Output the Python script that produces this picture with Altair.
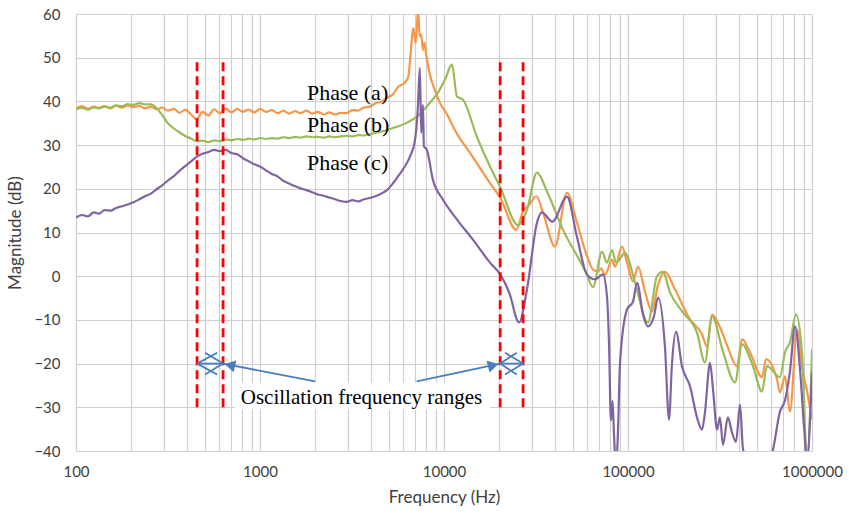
import altair as alt
import pandas as pd

# ---------------- measured magnitude responses (Hz, dB) ----------------
# shared frequency points for the low / mid band
freq_low = [100, 108, 116, 125, 133, 143, 154, 165, 178, 191,
            205, 221, 237, 255, 274, 294, 316, 340, 365, 392,
            422, 453, 487, 524, 563, 605, 650, 699, 751, 807,
            868, 933, 1000, 1080, 1160, 1250, 1340, 1440, 1550, 1660,
            1790, 1920, 2060, 2220, 2380, 2560, 2750, 2960, 3180, 3420,
            3670, 3950, 4240, 4560, 4900, 5270, 5660]

phase_a_low = [38.4, 38.9, 38.3, 38.8, 38.5, 38.9, 38.4, 39.0, 38.6, 39.1,
               38.7, 39.0, 38.4, 38.8, 38.2, 38.6, 37.9, 38.3, 37.4, 38.1,
               37.0, 35.9, 37.6, 36.8, 38.2, 37.3, 38.4, 37.5, 38.3, 37.6,
               38.1, 37.5, 38.3, 37.6, 38.0, 37.3, 37.9, 37.2, 37.8, 37.3,
               37.9, 37.2, 37.6, 37.0, 37.5, 37.0, 37.4, 37.3, 38.0, 37.9,
               38.6, 38.8, 39.6, 39.9, 40.8, 41.6, 43.4]

phase_b_low = [38.2, 38.5, 38.1, 38.6, 38.4, 38.8, 38.6, 39.1, 38.9, 39.4,
               39.2, 39.6, 39.3, 39.3, 38.5, 36.9, 35.0, 33.8, 32.9, 32.1,
               31.5, 30.9, 31.0, 30.7, 31.1, 30.9, 31.3, 31.1, 31.4, 31.2,
               31.5, 31.3, 31.6, 31.4, 31.6, 31.5, 31.8, 31.6, 31.9, 31.7,
               32.0, 31.8, 31.9, 31.7, 32.0, 31.8, 32.0, 32.1, 32.0, 32.3,
               32.2, 32.5, 32.8, 33.1, 33.4, 33.9, 34.3]

phase_c_low = [13.4, 14.0, 13.7, 14.6, 14.3, 15.1, 15.0, 15.6, 16.0, 16.4,
               16.9, 17.6, 18.3, 18.9, 19.9, 20.8, 21.9, 22.9, 24.1, 25.2,
               26.3, 27.3, 28.0, 28.4, 28.9, 28.6, 28.9, 28.2, 27.9, 27.0,
               26.3, 25.6, 25.1, 24.2, 23.4, 22.8, 21.8, 21.2, 20.6, 20.1,
               19.7, 19.2, 18.7, 18.4, 18.0, 17.6, 17.2, 17.0, 17.4, 17.1,
               17.6, 17.9, 18.3, 18.9, 19.7, 21.2, 23.0]

# high band, per phase
freq_a_hi = [6100, 6400, 6590, 6800, 7020, 7230, 7370, 7520, 7680, 7840,
             8000, 8270, 8520, 8900, 9520, 10300, 11680, 13860, 17780, 20200,
             24700, 27000, 28600, 31800, 34500, 40100, 46600, 52800, 60000, 64600,
             68400, 71400, 75000, 81900, 85000, 92800, 98800, 106500, 113400, 123700,
             135000, 145500, 158900, 179900, 217300, 252500, 268800, 286200, 316000, 349000,
             391000, 416700, 460000, 534900, 562300, 645200, 669800, 713300, 759300, 828700,
             882000, 951000, 1000000]
phase_a_hi = [44.2, 45.7, 51.1, 56.8, 53.4, 61.0, 54.9, 55.3, 51.8, 53.4,
              50.7, 47.3, 45.0, 42.7, 39.6, 37.3, 32.8, 28.2, 21.3, 18.0,
              10.6, 15.0, 16.0, 18.3, 14.6, 6.8, 19.1, 12.2, 4.5, 1.5,
              1.1, 1.8, 0.3, 3.8, 2.2, 6.8, 3.1, -1.2, 2.2, -3.5,
              -8.1, -2.0, 1.0, -3.0, -9.9, -13.3, -16.1, -8.8, -11.7, -16.3,
              -20.6, -14.4, -17.4, -23.1, -19.0, -23.6, -26.6, -22.9, -31.0, -12.2,
              -20.6, -27.5, -32.8]

freq_b_hi = [6350, 7130, 8390, 9270, 10120, 11050, 11760, 12680, 15060, 17780,
             20150, 25260, 28260, 32000, 36300, 44360, 54800, 59000, 64560, 72240,
             76900, 81890, 86090, 96370, 109200, 128400, 143800, 154900, 169100, 199000,
             237100, 261900, 286200, 328200, 381600, 416700, 477900, 534900, 568900, 669800,
             713300, 759300, 818500, 882000, 939600, 1000000]
phase_b_hi = [35.2, 36.5, 39.7, 42.0, 45.0, 48.4, 41.1, 40.4, 32.0, 25.1,
              20.5, 11.7, 15.2, 23.7, 19.4, 10.6, 3.5, 1.0, -2.5, 5.6,
              3.1, 6.0, 3.1, 5.3, -1.5, -10.6, 0.0, 1.0, -3.7, -8.3,
              -12.9, -19.7, -9.2, -17.2, -24.3, -15.6, -20.6, -26.4, -20.6, -23.1,
              -17.4, -15.1, -8.8, -17.4, -42.0, -16.8]

freq_c_hi = [6100, 6540, 6960, 7200, 7390, 7520, 7680, 7780, 8060, 8700,
             9880, 11800, 14400, 17780, 20200, 22600, 25600, 28260, 32000, 34000,
             38800, 46600, 52800, 59800, 66200, 73100, 76900, 78800, 80800, 82400,
             83900, 86090, 88300, 90500, 98800, 106500, 112000, 120700, 128400, 138400,
             145500, 158900, 167000, 173500, 182400, 196500, 217300, 237100, 252500, 261900,
             279100, 289900, 304800, 316000, 328200, 349000, 367500, 386400, 406300, 421700,
             448700, 521300, 606200, 669800, 713300, 759300, 808400, 861000, 905100, 939600,
             988000, 1000000]
phase_c_hi = [25.0, 27.4, 31.2, 38.1, 47.7, 32.8, 39.2, 29.7, 29.0, 22.1,
              17.5, 12.9, 8.3, 3.1, 0.4, -3.7, -10.6, -3.0, 12.2, 14.6,
              12.5, 18.2, 9.0, 0.4, -0.7, 0.4, -4.7, -15.0, -33.0, -28.5,
              -36.0, -44.0, -35.0, -19.8, -7.6, -5.8, -1.5, -8.8, -11.5, -9.2,
              -4.9, -16.3, -32.8, -19.8, -12.7, -20.6, -25.2, -32.3, -35.1, -31.2,
              -19.8, -26.0, -35.1, -32.3, -38.6, -32.3, -35.8, -37.9, -29.4, -39.6,
              -42.0, -44.0, -40.5, -31.0, -28.4, -21.7, -11.5, -21.4, -34.5, -42.0,
              -27.5, -22.0]

phase_names = ["Phase (a)", "Phase (b)", "Phase (c)"]
phase_colors = ["#f79646", "#9bbb59", "#8064a2"]

# oscillation band edges (Hz)
band_edges = [455, 630, 20200, 26900]

# ---------------- tables ----------------
rows = []
for name, fr, mg in [
    (phase_names[0], freq_low + freq_a_hi, phase_a_low + phase_a_hi),
    (phase_names[1], freq_low + freq_b_hi, phase_b_low + phase_b_hi),
    (phase_names[2], freq_low + freq_c_hi, phase_c_low + phase_c_hi),
]:
    rows += [{"freq": f, "mag": m, "phase": name} for f, m in zip(fr, mg)]
curves = pd.DataFrame(rows)

edges = pd.DataFrame({"freq": band_edges, "mag": [-30] * 4, "mag2": [50] * 4})

# arrow shafts and open heads of the band markers
seg_start_f = [1990, 7110, 455, 20200, 455, 455, 630, 630, 20200, 20200, 26900, 26900]
seg_start_m = [-24.07, -24.07, -20, -20, -20, -20, -20, -20, -20, -20, -20, -20]
seg_end_f = [630, 20200, 630, 26900, 585, 585, 503, 503, 24840, 24840, 21450, 21450]
seg_end_m = [-20, -20, -20, -20, -17.5, -22.5, -17.5, -22.5, -17.5, -22.5, -17.5, -22.5]
segments = pd.DataFrame({"freq": seg_start_f, "mag": seg_start_m,
                         "freq2": seg_end_f, "mag2": seg_end_m})

heads = pd.DataFrame({"freq": [685, 18510], "mag": [-20.37, -20.4], "ang": [282.5, 76.1]})

label_box = pd.DataFrame({"freq": [731], "freq2": [17780], "mag": [-24.3], "mag2": [-30.5]})
band_label = pd.DataFrame({"freq": [3560], "mag": [-29.2], "text": ["Oscillation frequency ranges"]})
phase_labels = pd.DataFrame({"freq": [1800, 1800, 1800], "mag": [40.4, 33.1, 24.4],
                             "text": phase_names})

# ---------------- scales / axes ----------------
x_ticks = [m * 10 ** e for e in range(2, 6) for m in range(1, 10)] + [1000000]
y_ticks = list(range(-40, 61, 10))

AXIS_FONT = "Lato"
TEXT_COLOR = "#404040"
GRID = "#cfcfcf"

x_scale = alt.Scale(type="log", domain=[100, 1000000], nice=False)
y_scale = alt.Scale(domain=[-40, 60], nice=False, zero=False)

x_axis = alt.Axis(
    values=x_ticks,
    labelExpr="indexof([100, 1000, 10000, 100000, 1000000], datum.value) >= 0 ? format(datum.value, 'd') : ''",
    grid=True, gridColor=GRID, gridWidth=1.2, ticks=False, tickSize=0, domain=False,
    labelFont=AXIS_FONT, labelFontSize=15, labelColor=TEXT_COLOR, labelPadding=13,
    labelFlush=False, labelOverlap=False,
    title="Frequency (Hz)", titleFont=AXIS_FONT, titleFontSize=17, titleFontWeight="normal",
    titleColor=TEXT_COLOR, titlePadding=10,
)
y_axis = alt.Axis(
    values=y_ticks, grid=True, gridColor=GRID, gridWidth=1.2, ticks=False, tickSize=0,
    domain=False, labelFont=AXIS_FONT, labelFontSize=15, labelColor=TEXT_COLOR,
    labelPadding=16,
    title="Magnitude (dB)", titleFont=AXIS_FONT, titleFontSize=17, titleFontWeight="normal",
    titleColor=TEXT_COLOR, titlePadding=9,
)


def X(field="freq"):
    return alt.X(f"{field}:Q", scale=x_scale, axis=x_axis)


def Y(field="mag"):
    return alt.Y(f"{field}:Q", scale=y_scale, axis=y_axis)


BLUE = "#4a7ebb"

lines = alt.Chart(curves).mark_line(strokeWidth=2.2, clip=True, interpolate="monotone").encode(
    x=X(), y=Y(),
    color=alt.Color("phase:N", scale=alt.Scale(domain=phase_names, range=phase_colors), legend=None),
    order=alt.Order("freq:Q"),
)

red_dashes = alt.Chart(edges).mark_rule(color="#ff0000", strokeWidth=2.8, strokeDash=[9, 5]).encode(
    x=X(), y=Y(), y2=alt.Y2("mag2:Q"),
)

box = alt.Chart(label_box).mark_rect(fill="white").encode(
    x=X(), x2=alt.X2("freq2:Q"), y=Y(), y2=alt.Y2("mag2:Q"),
)

band_text = alt.Chart(band_label).mark_text(
    font="Liberation Serif", fontSize=21, color="black", align="center", baseline="alphabetic"
).encode(x=X(), y=Y(), text="text:N")

arrows = alt.Chart(segments).mark_rule(color=BLUE, strokeWidth=1.8).encode(
    x=X(), y=Y(), x2=alt.X2("freq2:Q"), y2=alt.Y2("mag2:Q"),
)

arrow_heads = alt.Chart(heads).mark_point(
    shape="triangle-up", filled=True, size=150, color=BLUE, opacity=1
).encode(x=X(), y=Y(), angle=alt.Angle("ang:Q", scale=None))

phase_text = alt.Chart(phase_labels).mark_text(
    font="Liberation Serif", fontSize=22, color="black", align="left", baseline="alphabetic"
).encode(x=X(), y=Y(), text="text:N")

chart = alt.layer(
    lines, red_dashes, box, band_text, arrows, arrow_heads, phase_text
).properties(
    width=736, height=437,
    autosize=alt.AutoSizeParams(type="none"),
    padding={"left": 76, "top": 14, "right": 37, "bottom": 68},
    background="white",
).configure_view(strokeWidth=0)

chart.save("out.html", embed_options={"renderer": "svg", "actions": False})
